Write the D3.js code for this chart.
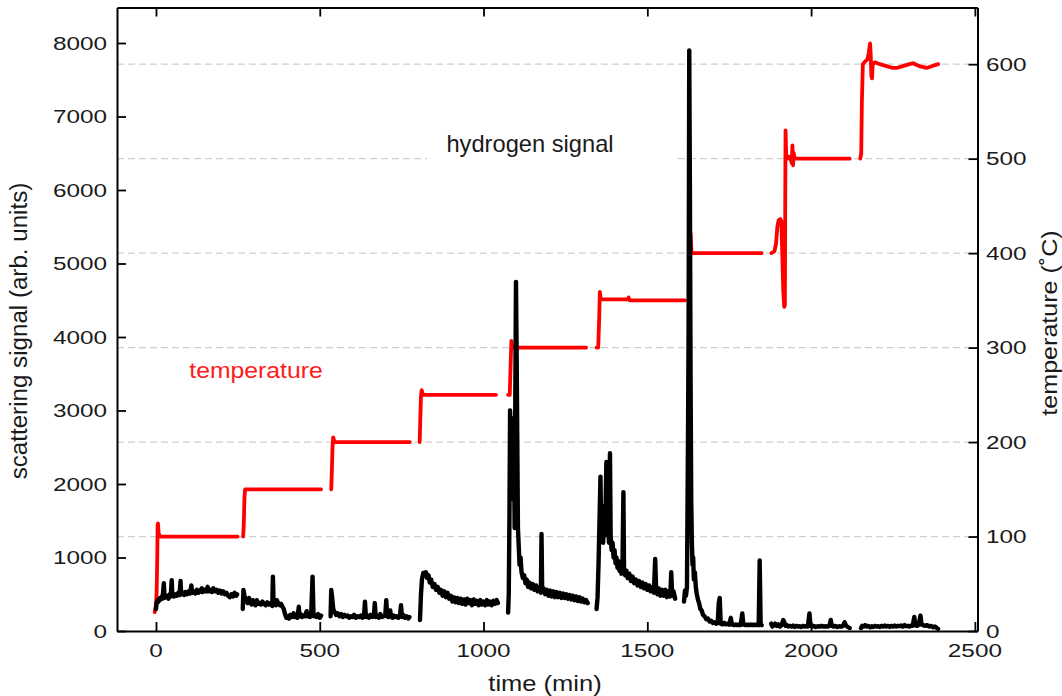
<!DOCTYPE html>
<html>
<head>
<meta charset="utf-8">
<script src="https://cdn.jsdelivr.net/npm/d3@7"></script>
<style>
  body { margin: 0; background: #fff; }
  svg { display: block; }
  text { font-family: "Liberation Sans", Arial, Helvetica, sans-serif; }
</style>
</head>
<body>
<svg id="chart" width="1062" height="696"></svg>
<script>
// axis ticks
const xTicks = [0, 500, 1000, 1500, 2000, 2500];
const signalTicks = [0, 1000, 2000, 3000, 4000, 5000, 6000, 7000, 8000];
const tempTicks = [0, 100, 200, 300, 400, 500, 600];
const gridTemps = [100, 200, 300, 400, 500, 600];

// temperature (°C) vs time (min), one array per logged run
const temperature = [
  [[-4,20],[0,28],[2,40],[4,80],[5,112],[6,114],[8,104],[12,100],[60,100],[120,100],[180,100],[249,100]],
  [[266,100],[268,112],[270,140],[272,150],[290,150],[350,150],[420,150],[504,150]],
  [[535,150],[537,170],[539,195],[541,205],[545,200],[620,200],[700,200],[775,200]],
  [[805,200],[807,225],[809,248],[811,255],[815,250],[900,250],[980,250],[1038,250]],
  [[1075,250],[1080,250],[1083,285],[1085,307],[1088,300],[1180,300],[1250,300],[1313,300]],
  [[1345,300],[1350,300],[1353,330],[1355,359],[1358,351],[1440,351],[1443,353],[1446,350],[1530,350],[1615,350]],
  [[1627,350],[1630,400],[1632,421],[1635,400],[1700,400],[1770,400],[1849,400]],
  [[1879,400],[1888,402],[1893,410],[1897,428],[1901,435],[1906,436],[1909,434],[1912,400],[1915,360],[1918,343],[1920,345],[1921,450],[1922,530],[1924,505],[1928,500],[1933,502],[1938,499],[1941,495],[1943,514],[1945,493],[1947,506],[1950,500],[2030,500],[2118,500]],
  [[2150,500],[2153,505],[2155,560],[2158,600],[2165,603],[2172,605],[2176,612],[2180,622],[2182,610],[2184,588],[2186,585],[2188,600],[2195,602],[2210,600],[2230,598],[2250,596],[2261,596],[2280,598],[2300,600],[2311,601],[2330,598],[2353,596],[2370,598],[2388,600]]
];

// hydrogen scattering signal (arb. units) vs time (min)
const hydrogen = [
  [[0,300],[2,380],[5,420],[8,400],[12,450],[15,430],[18,470],[20,440],[24,650],[26,450],[30,460],[35,480],[38,440],[42,500],[45,470],[48,690],[50,480],[55,470],[60,500],[64,480],[68,520],[72,490],[75,680],[77,500],[82,520],[86,490],[90,530],[95,500],[100,540],[104,510],[108,620],[110,520],[115,540],[120,510],[125,560],[130,520],[135,550],[140,580],[142,530],[148,560],[152,540],[158,600],[160,540],[165,560],[170,530],[175,580],[180,540],[185,560],[190,520],[195,550],[200,510],[205,540],[210,500],[215,520],[220,480],[225,460],[230,500],[235,470],[240,520],[245,480],[248,500]],
  [[265,300],[267,560],[270,480],[275,420],[280,380],[284,450],[288,400],[292,360],[296,420],[300,380],[304,350],[308,420],[312,370],[316,380],[320,360],[325,400],[330,370],[335,350],[340,390],[345,360],[350,380],[355,340],[357,740],[359,380],[363,420],[366,350],[369,420],[373,380],[378,350],[382,370],[386,330],[390,300],[394,230],[398,180],[402,200],[406,170],[410,220],[415,190],[420,240],[424,190],[428,210],[432,180],[436,330],[438,200],[442,230],[446,190],[450,210],[455,200],[460,270],[463,200],[467,230],[470,190],[474,250],[478,740],[481,200],[485,220],[490,190],[495,230],[500,180],[504,210]],
  [[533,200],[535,560],[538,450],[541,300],[545,260],[550,220],[555,240],[560,200],[565,230],[570,190],[575,220],[580,200],[585,210],[590,180],[595,200],[600,190],[605,220],[610,180],[615,200],[620,190],[625,210],[630,180],[635,200],[638,400],[641,190],[645,210],[650,180],[655,220],[660,190],[665,200],[668,380],[671,190],[675,210],[680,180],[685,230],[690,190],[695,200],[700,210],[703,420],[706,200],[710,190],[715,280],[718,200],[722,180],[726,210],[730,190],[735,200],[740,180],[745,210],[748,350],[751,190],[755,220],[760,180],[765,200],[770,170],[774,190]],
  [[806,150],[809,500],[812,700],[816,790],[820,760],[824,800],[828,720],[832,760],[836,660],[840,700],[845,600],[850,640],[855,560],[860,600],[865,520],[870,560],[875,480],[880,540],[885,460],[890,520],[895,440],[900,480],[905,400],[910,460],[915,390],[920,450],[925,380],[930,440],[935,370],[940,430],[945,360],[950,440],[955,380],[960,420],[965,350],[970,430],[975,370],[980,410],[985,350],[990,420],[995,360],[1000,400],[1005,350],[1010,420],[1015,360],[1020,400],[1025,350],[1030,410],[1035,370],[1040,420],[1044,380]],
  [[1075,250],[1077,500],[1079,1500],[1081,3000],[1083,2600],[1085,2900],[1087,2200],[1089,2700],[1091,1800],[1093,2400],[1095,1400],[1097,3200],[1099,4750],[1101,3800],[1103,2600],[1105,1400],[1107,1200],[1110,900],[1113,1000],[1116,800],[1120,720],[1124,760],[1128,650],[1132,700],[1136,600],[1140,660],[1145,580],[1150,640],[1155,560],[1160,620],[1165,540],[1170,600],[1175,520],[1177,1320],[1179,540],[1183,580],[1188,500],[1193,560],[1198,480],[1203,550],[1208,470],[1213,540],[1218,460],[1223,530],[1228,460],[1233,520],[1238,450],[1243,510],[1248,450],[1253,500],[1258,440],[1263,490],[1268,430],[1273,480],[1278,420],[1283,470],[1288,410],[1293,460],[1298,400],[1303,440],[1308,390],[1313,420],[1318,380]],
  [[1345,300],[1348,450],[1351,900],[1354,1500],[1357,2100],[1359,1400],[1362,1700],[1365,1200],[1368,1500],[1371,1300],[1375,2300],[1377,1400],[1380,1600],[1383,1200],[1386,2420],[1388,1300],[1391,1100],[1394,1200],[1397,1000],[1400,1100],[1403,920],[1406,1000],[1409,860],[1412,950],[1415,820],[1418,900],[1421,780],[1424,850],[1427,1890],[1429,800],[1432,760],[1436,820],[1440,720],[1445,780],[1450,680],[1455,740],[1460,650],[1465,700],[1470,620],[1475,680],[1480,600],[1485,660],[1490,580],[1495,640],[1500,560],[1505,620],[1510,540],[1515,600],[1520,520],[1524,980],[1527,560],[1531,500],[1535,580],[1540,480],[1545,560],[1550,480],[1555,560],[1560,460],[1565,540],[1570,470],[1573,800],[1576,480],[1580,540],[1585,440]],
  [[1612,400],[1615,550],[1618,480],[1621,600],[1624,2500],[1626,4100],[1628,7900],[1630,6000],[1632,3500],[1634,1800],[1636,1200],[1638,900],[1640,1000],[1642,700],[1645,800],[1648,600],[1651,500],[1655,420],[1658,380],[1662,300],[1666,280],[1670,220],[1675,200],[1680,160],[1685,170],[1690,130],[1695,140],[1700,110],[1705,120],[1710,100],[1715,110],[1718,380],[1721,450],[1724,100],[1730,90],[1735,110],[1740,90],[1745,100],[1750,85],[1755,180],[1758,90],[1765,80],[1770,90],[1775,80],[1780,85],[1785,80],[1790,240],[1793,90],[1800,80],[1805,85],[1810,80],[1815,90],[1820,80],[1825,85],[1830,80],[1835,90],[1840,80],[1843,960],[1846,100],[1849,80]],
  [[1878,100],[1882,60],[1886,80],[1890,100],[1895,70],[1900,90],[1905,60],[1910,80],[1915,150],[1918,120],[1922,70],[1926,80],[1930,60],[1935,70],[1940,60],[1945,75],[1950,55],[1955,70],[1960,60],[1965,65],[1970,55],[1975,70],[1980,60],[1985,65],[1990,60],[1995,240],[1998,70],[2002,60],[2008,70],[2014,55],[2020,65],[2026,60],[2032,70],[2038,60],[2044,65],[2050,60],[2056,70],[2060,150],[2063,70],[2068,60],[2074,70],[2080,55],[2086,65],[2092,60],[2098,70],[2102,120],[2106,80],[2110,60],[2114,50],[2118,40]],
  [[2152,40],[2156,70],[2160,60],[2165,80],[2170,60],[2175,70],[2180,50],[2185,65],[2190,55],[2195,70],[2200,60],[2205,65],[2210,55],[2215,70],[2220,60],[2225,75],[2230,60],[2235,70],[2240,55],[2245,70],[2250,60],[2255,75],[2260,60],[2265,70],[2270,65],[2275,75],[2280,60],[2285,80],[2290,65],[2295,70],[2300,60],[2305,75],[2310,70],[2315,190],[2318,80],[2322,70],[2328,80],[2334,210],[2337,90],[2342,80],[2348,70],[2354,80],[2360,60],[2366,70],[2372,50],[2378,60],[2384,40],[2388,30]]
];

const plotLeft = 117, plotRight = 977.5, plotTop = 7.5, plotBottom = 631;

const x = d3.scaleLinear().domain([-119, 2508]).range([plotLeft, plotRight]);
const ySig = d3.scaleLinear().domain([0, 8483]).range([plotBottom, plotTop]);
const yTemp = d3.scaleLinear().domain([0, 660]).range([plotBottom, plotTop]);

const svg = d3.select('#chart');

// dashed grid on the temperature scale
svg.append('g')
  .selectAll('line')
  .data(gridTemps)
  .join('line')
  .attr('x1', plotLeft).attr('x2', plotRight)
  .attr('y1', d => yTemp(d)).attr('y2', d => yTemp(d))
  .attr('stroke', '#cfcfcf')
  .attr('stroke-width', 1.3)
  .attr('stroke-dasharray', '7,4');

// label box that hides the grid behind "hydrogen signal"
svg.append('rect')
  .attr('x', 427).attr('y', 128)
  .attr('width', 248).attr('height', 40)
  .attr('fill', '#fff');

const label = (txt, px, py, size, sx, anchor, rot, color) => {
  const t = rot
    ? `translate(${px},${py}) rotate(-90) scale(${sx},1)`
    : `translate(${px},${py}) scale(${sx},1)`;
  svg.append('text')
    .attr('transform', t)
    .attr('text-anchor', anchor)
    .attr('font-size', size)
    .attr('fill', color || '#1a1a1a')
    .text(txt);
};

// data lines
const tLine = d3.line().x(d => x(d[0])).y(d => yTemp(d[1]));
const hLine = d3.line().x(d => x(d[0])).y(d => ySig(d[1]));

svg.append('g')
  .selectAll('path')
  .data(temperature)
  .join('path')
  .attr('d', tLine)
  .attr('fill', 'none')
  .attr('stroke', '#ff0000')
  .attr('stroke-width', 3.8)
  .attr('stroke-linejoin', 'round')
  .attr('stroke-linecap', 'round');

svg.append('g')
  .selectAll('path')
  .data(hydrogen)
  .join('path')
  .attr('d', hLine)
  .attr('fill', 'none')
  .attr('stroke', '#000')
  .attr('stroke-width', 4.4)
  .attr('stroke-linejoin', 'round')
  .attr('stroke-linecap', 'round');

// axes with inward ticks
const styleAxis = g => {
  g.select('.domain').attr('stroke', '#000').attr('stroke-width', 2);
  g.selectAll('.tick line').attr('stroke', '#000').attr('stroke-width', 1.8);
};

svg.append('g').attr('transform', `translate(0,${plotBottom})`)
  .call(d3.axisBottom(x).tickValues(xTicks).tickSizeInner(-9).tickSizeOuter(0).tickFormat(''))
  .call(styleAxis);
svg.append('g').attr('transform', `translate(0,${plotTop})`)
  .call(d3.axisTop(x).tickValues(xTicks).tickSizeInner(-9).tickSizeOuter(0).tickFormat(''))
  .call(styleAxis);
svg.append('g').attr('transform', `translate(${plotLeft},0)`)
  .call(d3.axisLeft(ySig).tickValues(signalTicks).tickSizeInner(-9).tickSizeOuter(0).tickFormat(''))
  .call(styleAxis);
svg.append('g').attr('transform', `translate(${plotRight},0)`)
  .call(d3.axisRight(yTemp).tickValues(tempTicks).tickSizeInner(-9).tickSizeOuter(0).tickFormat(''))
  .call(styleAxis);

// tick labels
xTicks.forEach(v => label(v, x(v), 656.5, 19, 1.28, 'middle'));
signalTicks.forEach(v => label(v, 107, ySig(v) + 6.8, 19, 1.28, 'end'));
tempTicks.forEach(v => label(v, 986, yTemp(v) + 6.8, 19, 1.28, 'start'));

// axis titles
label('time (min)', 545, 690.5, 22, 1.16, 'middle');
label('scattering signal (arb. units)', 27, 331, 23, 1.05, 'middle', true);
label('temperature (˚C)', 1057, 323, 22, 1.14, 'middle', true);

// series annotations
label('hydrogen signal', 530, 151.7, 23, 1.03, 'middle');
label('temperature', 256, 378.3, 22.5, 1.1, 'middle', false, '#ff1a1a');
</script>
</body>
</html>
